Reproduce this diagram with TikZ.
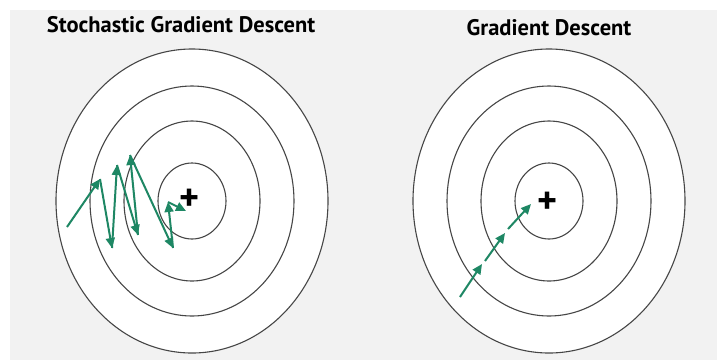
\documentclass[tikz,border=0pt]{standalone}
\usepackage{fontspec}
\setmainfont{PT Sans}
\usetikzlibrary{arrows.meta}

\definecolor{sgdgreen}{RGB}{30,135,100}
\definecolor{panelgray}{RGB}{242,242,242}
\definecolor{ringgray}{RGB}{70,70,70}

\begin{document}
\begin{tikzpicture}[x=1pt, y=-1pt,
  ring/.style={draw=ringgray, line width=1.1pt},
  stepline/.style={sgdgreen, line width=2pt, -{Triangle[length=10pt,width=9pt]}},
  title/.style={font=\fontsize{22.5}{22.5}\selectfont\bfseries},
  minimum/.style={font=\fontsize{38}{38}\selectfont\bfseries, inner sep=0pt}]
\useasboundingbox (0,0) rectangle (717,360);
\fill[white] (0,0) rectangle (717,360);
\fill[panelgray] (10,10) rectangle (717,360);

% contour rings
\foreach \cx in {192,549} {
  \fill[white] (\cx,201) ellipse [x radius=136, y radius=152];
  \foreach \rx/\ry in {136/152,102/115,68/80,34/38}
    \draw[ring] (\cx,201) ellipse [x radius=\rx, y radius=\ry];
}

\node[title] (sgdtitle) at (181,25) {Stochastic Gradient Descent};
\node[title] (gdtitle) at (549,28) {Gradient Descent};

\node[minimum] (minL) at (190,200) {+};
\node[minimum] (minR) at (548,203) {+};

% stochastic steps
\foreach \px/\py [count=\i from 0] in {67/227,100/179,112/248,117/165,138/235,130/155,173/248,168/202,186/211}
  \coordinate (s\i) at (\px,\py);
\foreach \i [remember=\i as \last (initially 0)] in {1,...,8}
  \draw[stepline] (s\last) -- (s\i);

% full batch steps
\coordinate (g0) at (460,297);
\coordinate (g1) at (482,264);
\coordinate (g2) at (485,261);
\coordinate (g3) at (505,233);
\coordinate (g4) at (508,229);
\coordinate (g5) at (531,204);
\draw[stepline] (g0) -- (g1);
\draw[stepline] (g2) -- (g3);
\draw[stepline] (g4) -- (g5);
\end{tikzpicture}
\end{document}
